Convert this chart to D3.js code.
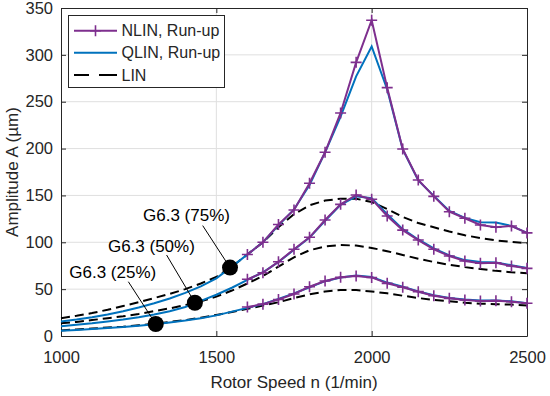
<!DOCTYPE html>
<html>
<head>
<meta charset="utf-8">
<script src="https://cdn.jsdelivr.net/npm/d3@7"></script>
<style>
  body { margin: 0; background: #fff; }
  svg text { font-family: "Liberation Sans", Arial, sans-serif; fill: #262626; }
</style>
</head>
<body>
<div id="chart"></div>
<script>
// rotor speed grids
const speedFull = d3.range(1000, 2501, 50);
const speedNlin = d3.range(1600, 2501, 50);

// QLIN, run-up (1000..2500 step 50)
const qlin75 = [15.5, 17.5, 20, 23, 26.5, 30.5, 35, 40, 46, 53, 61.5, 74, 87, 100, 118, 135, 161, 196, 234, 277, 309, 263, 199, 166, 149.5, 133.5, 126, 121.5, 121, 117.5, 110];
const qlin50 = [10.5, 12, 13.5, 15.5, 17.5, 20, 23, 26.5, 31, 37.5, 44, 51.5, 60, 68, 79, 92, 105, 123, 140, 149, 147, 130, 114, 103, 93.5, 86, 81, 79, 78.5, 75.5, 72.5];
const qlin25 = [5.5, 6.5, 7.5, 8.5, 9.5, 11, 12.5, 14.5, 16.5, 19, 22, 26, 30, 34, 39.5, 45.5, 52, 58.5, 62.5, 64.5, 63, 57, 52.5, 47.5, 43.5, 40.5, 39, 38, 38, 37, 35];

// LIN (1000..2500 step 50)
const lin75 = [19, 21.5, 24.5, 28, 32, 36, 40.5, 45, 50, 56, 63, 74, 87, 100, 116, 130, 139.5, 144.5, 146.5, 146.5, 143, 135.5, 127, 120.5, 116, 111.5, 107.5, 104.5, 102, 100.5, 99];
const lin50 = [13.5, 15, 17, 19, 21, 23.5, 26.5, 29.5, 33, 37, 42, 48.5, 56, 64, 74, 84, 91.5, 95.5, 97, 96.5, 94, 90.5, 86.5, 82.5, 79, 76, 73.5, 71.5, 69.5, 68, 67];
const lin25 = [6, 7, 8, 9, 10, 11.5, 13, 15, 17, 19.5, 22.5, 25.5, 29, 32.5, 36, 40.5, 44.5, 47.5, 49, 49, 47.5, 45.5, 43, 40.5, 38.5, 37, 35.5, 34.5, 34, 33.5, 32.5];

// NLIN, run-up (1600..2500 step 50)
const nlin75 = [87, 100, 119, 134.5, 163, 196, 238, 292, 337, 265, 199.5, 166.5, 149, 132.6, 125.6, 118.5, 116, 117.4, 110];
const nlin50 = [60.5, 67.5, 79.3, 92.5, 105.3, 123.8, 140.5, 150.5, 146, 128, 113, 102.4, 92.5, 85.4, 80, 77.6, 78.2, 74.7, 72.2];
const nlin25 = [31, 34, 39, 44.8, 52.6, 58.7, 62.6, 64, 62.5, 56.2, 52, 47.3, 43, 40.2, 38.4, 37.3, 37.7, 36.6, 34.9];

// G6.3 operating points
const gLabels = ["G6.3 (25%)", "G6.3 (50%)", "G6.3 (75%)"];
const gSpeed = [1305, 1431, 1544];
const gAmp = [12.8, 35.5, 73];

const xTicks = [1000, 1500, 2000, 2500];
const yTicks = [0, 50, 100, 150, 200, 250, 300, 350];
const legendNames = ["NLIN, Run-up", "QLIN, Run-up", "LIN"];

const colors = { nlin: "#7E2F8E", qlin: "#0072BD", lin: "#000", axis: "#262626", grid: "#dfdfdf" };

const W = 550, H = 396;
const margin = { top: 8, right: 23, bottom: 60, left: 61 };
const width = W - margin.left - margin.right;
const height = H - margin.top - margin.bottom;

const svg = d3.select("#chart").append("svg")
  .attr("width", W).attr("height", H);
const g = svg.append("g").attr("transform", `translate(${margin.left},${margin.top})`);

const x = d3.scaleLinear().domain([1000, 2500]).range([0, width]);
const y = d3.scaleLinear().domain([0, 350]).range([height, 0]);

// grid
g.append("g").selectAll("line").data(xTicks.slice(1, -1)).join("line")
  .attr("x1", d => x(d)).attr("x2", d => x(d)).attr("y1", 0).attr("y2", height)
  .attr("stroke", colors.grid);
g.append("g").selectAll("line").data(yTicks.slice(1, -1)).join("line")
  .attr("y1", d => y(d)).attr("y2", d => y(d)).attr("x1", 0).attr("x2", width)
  .attr("stroke", colors.grid);

// axes (inward ticks, box)
const tickLen = 5;
const fmt = d3.format("d");
const styleAxis = (sel) => {
  sel.select(".domain").attr("stroke", colors.axis);
  sel.selectAll(".tick line").attr("stroke", colors.axis);
  sel.selectAll(".tick text").attr("fill", colors.axis).style("font-size", "16.5px");
};
g.append("g").attr("transform", `translate(0,${height})`)
  .call(d3.axisBottom(x).tickValues(xTicks).tickFormat(fmt).tickSizeInner(-tickLen).tickSizeOuter(0).tickPadding(15))
  .call(styleAxis);
g.append("g")
  .call(d3.axisLeft(y).tickValues(yTicks).tickFormat(fmt).tickSizeInner(-tickLen).tickSizeOuter(0).tickPadding(8))
  .call(styleAxis);
g.append("g")
  .call(d3.axisTop(x).tickValues(xTicks).tickSizeInner(-tickLen).tickSizeOuter(0).tickFormat(""))
  .call(styleAxis);
g.append("g").attr("transform", `translate(${width},0)`)
  .call(d3.axisRight(y).tickValues(yTicks).tickSizeInner(-tickLen).tickSizeOuter(0).tickFormat(""))
  .call(styleAxis);

// axis titles
svg.append("text")
  .attr("x", margin.left + width / 2).attr("y", 388)
  .attr("text-anchor", "middle").style("font-size", "17px")
  .text("Rotor Speed n (1/min)");
svg.append("text")
  .attr("transform", `translate(18,${margin.top + height / 2}) rotate(-90)`)
  .attr("text-anchor", "middle").style("font-size", "17px")
  .text("Amplitude A (µm)");

// curves
const line = d3.line().x(d => x(d[0])).y(d => y(d[1]));
const plot = g.append("g");

[lin25, lin50, lin75].forEach(arr => {
  plot.append("path")
    .attr("d", line(speedFull.map((s, i) => [s, arr[i]])))
    .attr("fill", "none").attr("stroke", colors.lin)
    .attr("stroke-width", 2).attr("stroke-dasharray", "9,5");
});
[qlin25, qlin50, qlin75].forEach(arr => {
  plot.append("path")
    .attr("d", line(speedFull.map((s, i) => [s, arr[i]])))
    .attr("fill", "none").attr("stroke", colors.qlin).attr("stroke-width", 2);
});
const plus = (sel, s) => sel.attr("d", `M${-s},0H${s}M0,${-s}V${s}`);
[nlin25, nlin50, nlin75].forEach(arr => {
  const pts = speedNlin.map((s, i) => [s, arr[i]]);
  plot.append("path")
    .attr("d", line(pts))
    .attr("fill", "none").attr("stroke", colors.nlin).attr("stroke-width", 2);
  plot.append("g").selectAll("path").data(pts).join("path")
    .attr("transform", d => `translate(${x(d[0])},${y(d[1])})`)
    .call(plus, 5.5)
    .attr("stroke", colors.nlin).attr("stroke-width", 1.6).attr("fill", "none");
});

// G6.3 annotations
const labelDx = [-43, -43.5, -43.5];
const labelDy = [-46, -51, -47];
const leadDx = [-27.4, -28.3, -27.3];
const leadDy = [-42.3, -47.7, -42];
gLabels.forEach((lab, i) => {
  const cx = x(gSpeed[i]), cy = y(gAmp[i]);
  g.append("line")
    .attr("x1", cx + leadDx[i]).attr("y1", cy + leadDy[i])
    .attr("x2", cx).attr("y2", cy)
    .attr("stroke", "#000").attr("stroke-width", 1);
  g.append("circle").attr("cx", cx).attr("cy", cy).attr("r", 8).attr("fill", "#000");
  g.append("text")
    .attr("x", cx + labelDx[i]).attr("y", cy + labelDy[i])
    .attr("text-anchor", "middle").style("font-size", "17px").style("fill", "#000")
    .text(lab);
});

// legend
const leg = svg.append("g");
leg.append("rect").attr("x", 68.5).attr("y", 15.5).attr("width", 156).attr("height", 72)
  .attr("fill", "#fff").attr("stroke", colors.axis);
const rowY = [30.7, 52.7, 75];
const legStyles = [
  { c: colors.nlin, dash: null, mark: true },
  { c: colors.qlin, dash: null, mark: false },
  { c: colors.lin, dash: "15,10,18", mark: false }
];
legendNames.forEach((name, i) => {
  const st = legStyles[i];
  leg.append("line").attr("x1", 74).attr("x2", 117).attr("y1", rowY[i]).attr("y2", rowY[i])
    .attr("stroke", st.c).attr("stroke-width", 2)
    .attr("stroke-dasharray", st.dash);
  if (st.mark) {
    leg.append("path").attr("transform", `translate(95.5,${rowY[i]})`).call(plus, 5.5)
      .attr("stroke", st.c).attr("stroke-width", 1.6);
  }
  leg.append("text").attr("x", 121.5).attr("y", rowY[i]).attr("dy", "0.35em")
    .style("font-size", "16px").text(name);
});
</script>
</body>
</html>
